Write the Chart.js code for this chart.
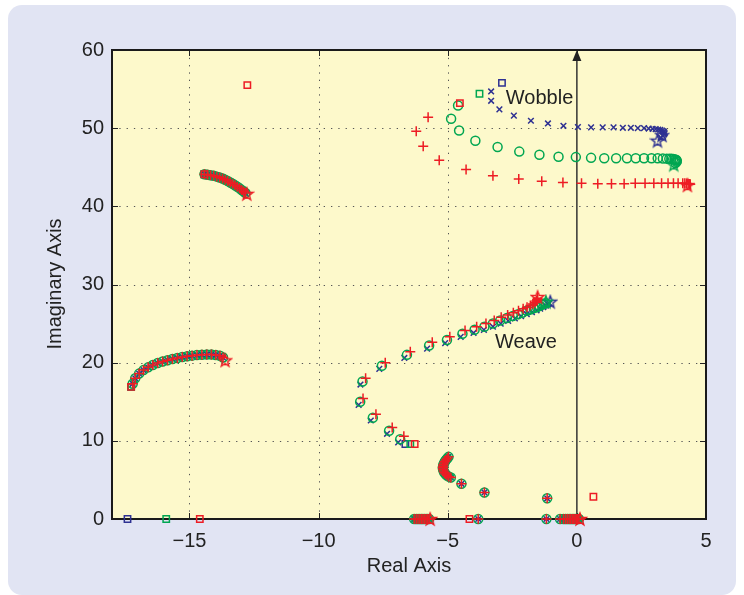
<!DOCTYPE html>
<html>
<head>
<meta charset="utf-8">
<script src="https://cdn.jsdelivr.net/npm/chart.js@4"></script>
<style>
  html, body { margin: 0; padding: 0; background: #fff; }
  canvas { display: block; }
</style>
</head>
<body>
<canvas id="myChart" width="744" height="595"></canvas>
<script>
// Ticks
const xTicks = [-15, -10, -5, 0, 5];
const yTicks = [0, 10, 20, 30, 40, 50, 60];

// Wobble mode (one locus per parameter set)
const wobbleBlue = [[-3.32,54.7],[-3.32,53.5],[-3.0,52.4],[-2.44,51.6],[-1.78,50.95],[-1.12,50.6],[-0.52,50.3],[0.04,50.15],[0.55,50.1],[1.0,50.1],[1.42,50.1],[1.78,50.05],[2.09,50.05],[2.36,50.0],[2.6,50.0],[2.78,49.95],[2.93,49.92],[3.05,49.88],[3.15,49.83],[3.23,49.77],[3.3,49.7],[3.35,49.6],[3.38,49.48],[3.4,49.35],[3.38,49.2],[3.33,49.0],[3.25,48.8]];
const wobbleGreen = [[-4.6,52.9],[-4.87,51.2],[-4.56,49.7],[-3.93,48.4],[-3.07,47.6],[-2.23,47.0],[-1.45,46.6],[-0.71,46.35],[-0.04,46.3],[0.55,46.2],[1.06,46.15],[1.52,46.15],[1.94,46.15],[2.28,46.15],[2.6,46.15],[2.89,46.15],[3.13,46.15],[3.33,46.12],[3.48,46.1],[3.58,46.1],[3.66,46.08],[3.73,46.05],[3.79,46.0],[3.84,45.95],[3.87,45.85],[3.86,45.7],[3.82,45.55]];
const wobbleRed = [[-5.76,51.4],[-6.22,49.6],[-5.95,47.7],[-5.33,45.9],[-4.29,44.7],[-3.25,43.9],[-2.25,43.5],[-1.36,43.2],[-0.54,43.05],[0.18,42.95],[0.81,42.9],[1.34,42.9],[1.83,42.9],[2.26,42.95],[2.64,42.95],[2.98,42.95],[3.28,42.95],[3.53,42.95],[3.74,42.95],[3.92,42.95],[4.1,42.95],[4.18,42.95],[4.25,42.93],[4.31,42.9],[4.36,42.87],[4.39,42.82]];

// Weave mode
const weaveBlue = [[-6.92,9.8],[-7.35,10.9],[-7.98,12.6],[-8.45,14.6],[-8.38,17.2],[-7.65,19.2],[-6.68,20.6],[-5.8,21.8],[-5.1,22.5],[-4.5,23.3],[-4.0,23.8],[-3.6,24.2],[-3.25,24.6],[-2.95,25.0],[-2.66,25.35],[-2.4,25.65],[-2.16,25.95],[-1.94,26.2],[-1.74,26.45],[-1.56,26.7],[-1.42,26.9],[-1.3,27.1],[-1.2,27.3],[-1.12,27.45],[-1.06,27.6]];
const weaveGreen = [[-6.84,10.2],[-7.27,11.3],[-7.9,12.96],[-8.39,15.0],[-8.3,17.6],[-7.55,19.6],[-6.58,21.0],[-5.72,22.2],[-5.03,22.9],[-4.43,23.7],[-3.96,24.2],[-3.58,24.6],[-3.25,25.0],[-2.97,25.4],[-2.71,25.7],[-2.48,25.97],[-2.28,26.2],[-2.1,26.4],[-1.94,26.65],[-1.8,26.8],[-1.66,27.0],[-1.55,27.1],[-1.45,27.25],[-1.36,27.4],[-1.28,27.5],[-1.21,27.6]];
const weaveRed = [[-6.7,10.6],[-7.15,11.7],[-7.78,13.4],[-8.28,15.4],[-8.18,18.0],[-7.42,20.0],[-6.45,21.4],[-5.6,22.6],[-4.92,23.3],[-4.33,24.1],[-3.88,24.6],[-3.52,25.0],[-3.2,25.4],[-2.93,25.8],[-2.68,26.1],[-2.46,26.4],[-2.26,26.65],[-2.08,26.9],[-1.93,27.1],[-1.8,27.3],[-1.7,27.5],[-1.62,27.7],[-1.57,27.9],[-1.53,28.05],[-1.52,28.25]];

// Branches where the three loci lie on top of each other
const arcHigh = [[-14.42,44.1],[-14.3,44.05],[-14.18,43.98],[-14.06,43.9],[-13.94,43.8],[-13.83,43.68],[-13.72,43.55],[-13.62,43.4],[-13.52,43.25],[-13.42,43.05],[-13.33,42.88],[-13.24,42.7],[-13.15,42.5],[-13.06,42.3],[-12.98,42.1],[-12.9,41.9],[-12.83,41.7]];
const arcLow = [[-17.2,17.3],[-17.1,18.0],[-16.95,18.6],[-16.78,19.05],[-16.6,19.4],[-16.42,19.7],[-16.23,19.95],[-16.04,20.15],[-15.85,20.32],[-15.66,20.47],[-15.47,20.6],[-15.28,20.72],[-15.09,20.82],[-14.9,20.9],[-14.71,20.97],[-14.52,21.02],[-14.33,21.04],[-14.15,21.03],[-13.98,20.98],[-13.82,20.88],[-13.7,20.65]];
const bandLow = [[-4.97,7.95],[-5.02,7.75],[-5.07,7.55],[-5.11,7.35],[-5.14,7.15],[-5.17,6.95],[-5.18,6.75],[-5.19,6.55],[-5.18,6.35],[-5.16,6.15],[-5.13,5.95],[-5.09,5.75],[-5.03,5.57],[-4.96,5.42],[-4.88,5.3],[-4.47,4.5],[-3.58,3.4],[-1.15,2.65]];
const realAxis = [[-6.3,0],[-6.22,0],[-6.15,0],[-6.08,0],[-6.02,0],[-5.96,0],[-5.9,0],[-5.84,0],[-5.78,0],[-5.72,0],[-3.82,0],[-1.18,0],[-0.65,0],[-0.52,0],[-0.44,0],[-0.37,0],[-0.3,0],[-0.24,0],[-0.18,0],[-0.12,0],[-0.07,0],[-0.02,0],[0.03,0],[0.08,0]];

// Start (squares) and end (stars) points
const startBlue = [[-2.9,55.8],[-6.64,9.6],[-17.4,0],[-17.26,16.9],[-14.42,44.1]];
const startGreen = [[-3.77,54.4],[-6.45,9.6],[-15.9,0],[-17.26,16.9],[-14.42,44.1]];
const startRed = [[-4.53,53.2],[-6.28,9.6],[-14.6,0],[-12.76,55.5],[-4.16,0],[0.64,2.85],[-17.26,16.9],[-14.42,44.1]];
const endBlue = [[3.12,48.4],[3.3,49.1],[-1.03,27.8]];
const endGreen = [[3.75,45.35],[-1.2,27.8]];
const endRed = [[4.28,42.7],[-1.52,28.4],[-12.78,41.6],[-13.62,20.3],[-5.68,0],[0.12,0]];

const blue = '#2e3192', green = '#00a651', red = '#ed1c24';

// five-pointed star marker, outline only
function starImage(color) {
    const cv = document.createElement('canvas');
    cv.width = 16; cv.height = 16;
    const c = cv.getContext('2d');
    c.strokeStyle = color;
    c.lineWidth = 1.4;
    c.beginPath();
    for (let i = 0; i < 10; i++) {
        const r = i % 2 === 0 ? 6.5 : 2.7;
        const a = -Math.PI / 2 + i * Math.PI / 5;
        const px = 8 + r * Math.cos(a), py = 8.5 + r * Math.sin(a);
        if (i === 0) c.moveTo(px, py); else c.lineTo(px, py);
    }
    c.closePath();
    c.stroke();
    return cv;
}

function pts(arr) { return arr.map(p => ({ x: p[0], y: p[1] })); }
function series(arr, color, style, r, order) {
    return {
        data: pts(arr), showLine: false, pointStyle: style, pointRadius: r, pointHoverRadius: r,
        borderColor: color, backgroundColor: 'transparent', pointBorderWidth: 1.5, order: order, clip: false
    };
}

const bluePts = [].concat(wobbleBlue, weaveBlue, arcHigh, arcLow, bandLow, realAxis);
const greenPts = [].concat(wobbleGreen, weaveGreen, arcHigh, arcLow, bandLow, realAxis);
const redPts = [].concat(wobbleRed, weaveRed, arcHigh, arcLow, bandLow, realAxis);

const fmt = v => v < 0 ? '\u2212' + Math.abs(v) : String(v);

const frame = {
    id: 'frame',
    beforeDraw(chart) {
        const c = chart.ctx, a = chart.chartArea;
        c.save();
        c.fillStyle = '#ffffff';
        c.fillRect(0, 0, chart.width, chart.height);
        c.fillStyle = '#e1e4f3';
        c.beginPath();
        c.roundRect(8, 5, 728, 590, 14);
        c.fill();
        c.fillStyle = '#fdf9cb';
        c.fillRect(a.left, a.top, a.right - a.left, a.bottom - a.top);
        c.restore();
    },
    beforeDatasetsDraw(chart) {
        const c = chart.ctx, a = chart.chartArea;
        const xs = chart.scales.x, ys = chart.scales.y;
        c.save();
        // dotted grid
        c.strokeStyle = '#555';
        c.lineWidth = 1;
        c.setLineDash([1.3, 6]);
        xTicks.forEach(v => {
            if (v === 0 || v === 5) return;
            const px = Math.round(xs.getPixelForValue(v)) + 0.5;
            c.beginPath(); c.moveTo(px, a.bottom); c.lineTo(px, a.top); c.stroke();
        });
        yTicks.forEach(v => {
            if (v === 0 || v === 60) return;
            const py = Math.round(ys.getPixelForValue(v)) + 0.5;
            c.beginPath(); c.moveTo(a.left, py); c.lineTo(a.right, py); c.stroke();
        });
        c.setLineDash([]);
        // inner tick marks
        c.strokeStyle = '#222';
        xTicks.forEach(v => {
            const px = Math.round(xs.getPixelForValue(v)) + 0.5;
            c.beginPath(); c.moveTo(px, a.bottom); c.lineTo(px, a.bottom - 6);
            c.moveTo(px, a.top); c.lineTo(px, a.top + 6); c.stroke();
        });
        yTicks.forEach(v => {
            const py = Math.round(ys.getPixelForValue(v)) + 0.5;
            c.beginPath(); c.moveTo(a.left, py); c.lineTo(a.left + 6, py);
            c.moveTo(a.right, py); c.lineTo(a.right - 6, py); c.stroke();
        });
        // imaginary axis with arrow
        const x0 = xs.getPixelForValue(0);
        c.strokeStyle = '#333';
        c.lineWidth = 1.5;
        c.beginPath(); c.moveTo(x0, a.bottom); c.lineTo(x0, a.top + 8); c.stroke();
        c.fillStyle = '#222';
        c.beginPath(); c.moveTo(x0, a.top); c.lineTo(x0 - 4.5, a.top + 11); c.lineTo(x0 + 4.5, a.top + 11); c.closePath(); c.fill();
        // box
        c.strokeStyle = '#1a1a1a';
        c.lineWidth = 2;
        c.strokeRect(a.left, a.top, a.right - a.left, a.bottom - a.top);
        c.restore();
    },
    afterDatasetsDraw(chart) {
        const c = chart.ctx;
        const xs = chart.scales.x, ys = chart.scales.y;
        c.save();
        c.fillStyle = '#222';
        c.font = '20px "Liberation Sans", Arial, sans-serif';
        c.textBaseline = 'middle';
        c.textAlign = 'left';
        c.fillText('Wobble', xs.getPixelForValue(-2.75), ys.getPixelForValue(53.8));
        c.fillText('Weave', xs.getPixelForValue(-3.17), ys.getPixelForValue(22.6));
        c.textAlign = 'center';
        c.fillText('Real Axis', 409, 566);
        c.translate(55, 284);
        c.rotate(-Math.PI / 2);
        c.fillText('Imaginary Axis', 0, 0);
        c.restore();
    }
};

const ctx = document.getElementById('myChart').getContext('2d');
const myChart = new Chart(ctx, {
    type: 'scatter',
    data: {
        datasets: [
            series(redPts, red, 'cross', 5, 0),
            series(startRed, red, 'rect', 4.5, 0),
            series(endRed, red, starImage(red), 6, 0),
            series(greenPts, green, 'circle', 4.5, 1),
            series(startGreen, green, 'rect', 4.5, 1),
            series(endGreen, green, starImage(green), 6, 1),
            series(bluePts, blue, 'crossRot', 4, 2),
            series(startBlue, blue, 'rect', 4.5, 2),
            series(endBlue, blue, starImage(blue), 6, 2)
        ]
    },
    options: {
        responsive: false,
        animation: false,
        devicePixelRatio: 1,
        layout: { padding: { left: 0, right: 38, top: 50, bottom: 0 } },
        plugins: { legend: { display: false }, tooltip: { enabled: false } },
        scales: {
            x: {
                type: 'linear', min: -18, max: 5,
                afterBuildTicks: s => { s.ticks = xTicks.map(v => ({ value: v })); },
                afterFit: s => { s.height = 76; },
                grid: { display: false, drawTicks: false },
                border: { display: false },
                ticks: { color: '#222', padding: 10, font: { family: '"Liberation Sans", Arial', size: 20 }, callback: fmt, maxRotation: 0 }
            },
            y: {
                type: 'linear', min: 0, max: 60,
                afterBuildTicks: s => { s.ticks = yTicks.map(v => ({ value: v })); },
                afterFit: s => { s.width = 112; },
                grid: { display: false, drawTicks: false },
                border: { display: false },
                ticks: { color: '#222', padding: 8, font: { family: '"Liberation Sans", Arial', size: 20 } }
            }
        }
    },
    plugins: [frame]
});
</script>
</body>
</html>
